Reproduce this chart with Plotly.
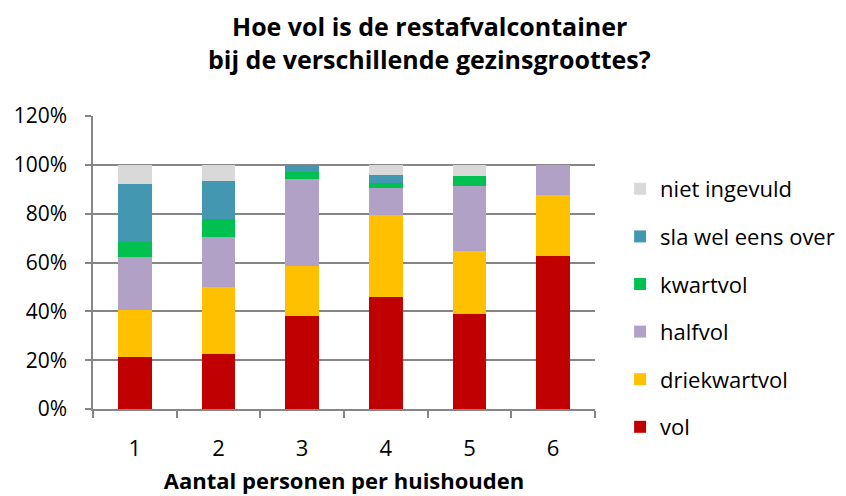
import plotly.graph_objects as go

categories = ["1", "2", "3", "4", "5", "6"]
vol = [21.4, 22.7, 37.9, 46.0, 38.9, 62.5]
driekwartvol = [19.0, 27.2, 20.7, 33.4, 26.0, 25.0]
halfvol = [21.9, 20.4, 35.5, 11.2, 26.3, 12.5]
kwartvol = [6.3, 7.5, 2.9, 1.8, 4.4, 0.0]
sla_wel_eens_over = [23.5, 15.4, 3.0, 3.6, 0.0, 0.0]
niet_ingevuld = [7.9, 6.8, 0.0, 4.0, 4.4, 0.0]

title_lines = ["Hoe vol is de restafvalcontainer", "bij de verschillende gezinsgroottes?"]
x_title = "Aantal personen per huishouden"

series = [
    ("vol", vol, "#C00000"),
    ("driekwartvol", driekwartvol, "#FFC000"),
    ("halfvol", halfvol, "#B2A1C7"),
    ("kwartvol", kwartvol, "#00C050"),
    ("sla wel eens over", sla_wel_eens_over, "#4397B0"),
    ("niet ingevuld", niet_ingevuld, "#D9D9D9"),
]

font_family = "Open Sans, Lato, Liberation Sans, sans-serif"

fig = go.Figure()
n = len(series)
for i, (name, vals, color) in enumerate(series):
    fig.add_trace(go.Bar(
        x=categories,
        y=[v / 100 for v in vals],
        name=name,
        legendgroup=name,
        legendrank=n - i,
        marker=dict(color=color, line=dict(width=0)),
    ))

fig.update_layout(
    barmode="stack",
    bargap=0.594,
    width=838,
    height=488,
    paper_bgcolor="white",
    plot_bgcolor="white",
    margin=dict(l=85, r=251, t=108, b=87, autoexpand=False),
    font=dict(family=font_family, size=22, color="#000000"),
    annotations=[
        dict(text="<b>" + title_lines[0] + "</b>", xref="paper", yref="paper",
             x=0.671, y=1.3072, xanchor="center", yanchor="middle",
             showarrow=False, font=dict(size=25)),
        dict(text="<b>" + title_lines[1] + "</b>", xref="paper", yref="paper",
             x=0.671, y=1.1945, xanchor="center", yanchor="middle",
             showarrow=False, font=dict(size=25)),
    ],
    legend=dict(
        traceorder="grouped",
        tracegroupgap=16,
        x=1.05, xanchor="left",
        y=0.8225, yanchor="top",
        font=dict(size=22),
        bgcolor="rgba(0,0,0,0)",
    ),
    xaxis=dict(
        title=dict(text="<b>" + x_title + "</b>", font=dict(size=22), standoff=12),
        automargin=False,
        showline=True, linecolor="#868686", linewidth=1.5,
        ticks="outside", tickson="boundaries", ticklen=7, tickcolor="#868686", tickwidth=1.5,
        ticklabelstandoff=19,
        tickfont=dict(size=22),
        showgrid=False,
    ),
    yaxis=dict(
        range=[0, 1.2], dtick=0.2, tickformat=".0%",
        automargin=False,
        showline=True, linecolor="#868686", linewidth=1.5,
        ticks="outside", ticklen=6, tickcolor="#868686", tickwidth=1.5,
        ticklabelstandoff=14,
        tickfont=dict(size=21),
        showgrid=True, gridcolor="#868686", gridwidth=1.5,
        zeroline=False,
    ),
)

fig.write_html("out.html")
